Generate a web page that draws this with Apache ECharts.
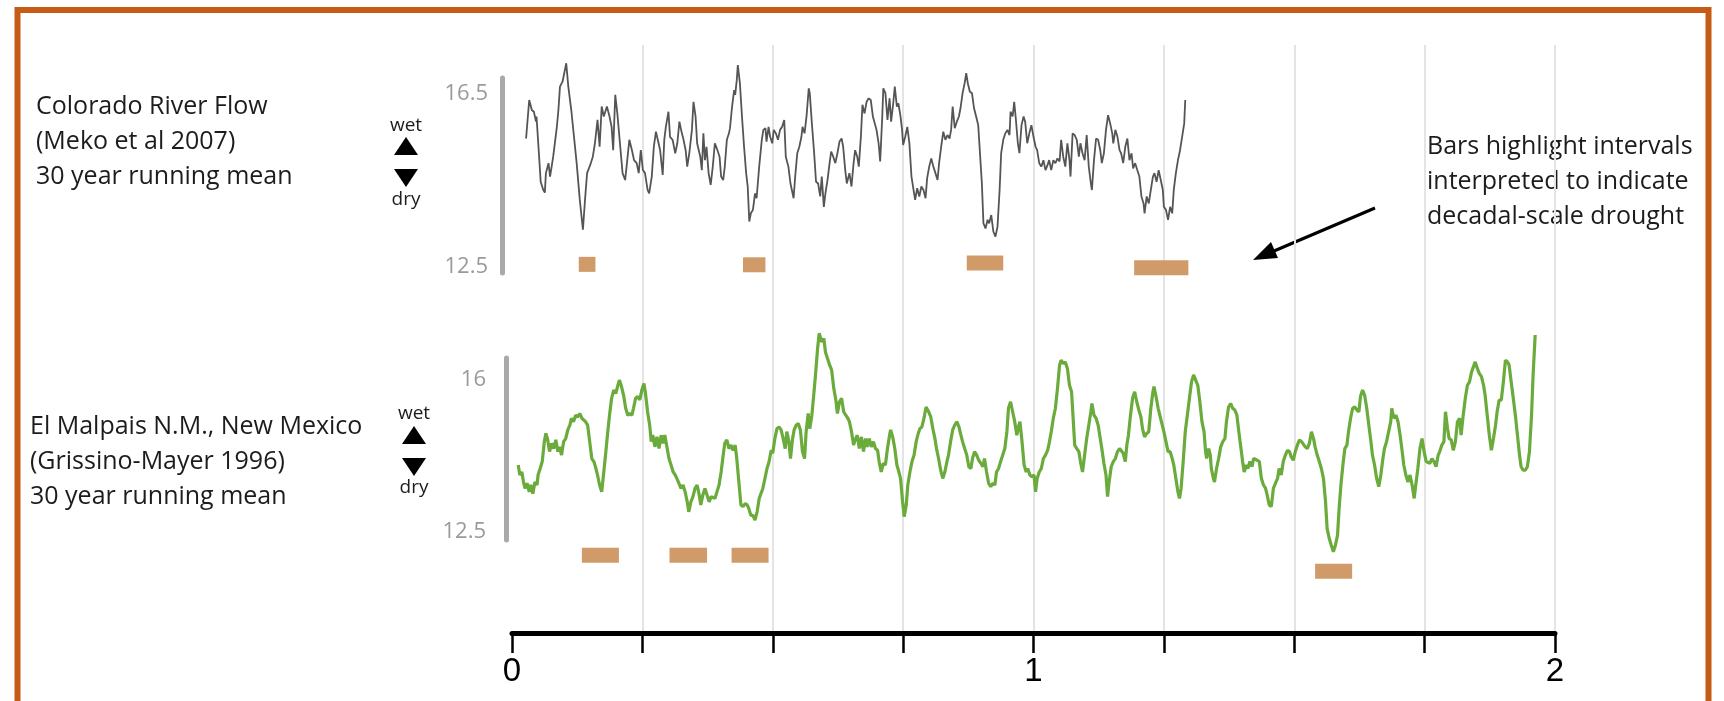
<!DOCTYPE html>
<html><head><meta charset="utf-8">
<script src="https://cdn.jsdelivr.net/npm/echarts@6/dist/echarts.min.js"></script>
<style>html,body{margin:0;padding:0;background:#fff}#c{width:1724px;height:701px}</style>
</head><body><div id="c"></div>
<script>
// x in years (0..2000), axis labelled in thousands
const xTickLabels = ['0', '1', '2'];
const coloradoTicks = [12.5, 16.5];
const malpaisTicks = [12.5, 16];
const coloradoLabel = ['Colorado River Flow', '(Meko et al 2007)', '30 year running mean'];
const malpaisLabel = ['El Malpais N.M., New Mexico', '(Grissino-Mayer 1996)', '30 year running mean'];
const noteLabel = ['Bars highlight intervals', 'interpreted to indicate', 'decadal-scale drought'];

const coloradoFlow = [[27,15.47],[33,16.36],[38,16.13],[42,16.09],[46,15.86],[47,15.98],[52,15.05],[55,14.47],[60,14.28],[63,14.22],[65,14.67],[70,14.90],[73,14.59],[79,15.05],[86,15.74],[89,16.13],[92,16.67],[97,16.79],[100,16.75],[104,17.21],[108,16.67],[114,16.09],[124,14.90],[130,14.05],[136,13.36],[140,14.05],[144,14.67],[150,14.86],[155,15.05],[159,15.36],[164,15.90],[168,15.28],[172,16.21],[176,15.98],[182,16.21],[187,15.98],[191,15.74],[194,15.20],[198,16.48],[202,16.05],[207,15.36],[212,14.67],[217,14.51],[221,14.97],[225,15.44],[230,15.20],[234,14.97],[239,14.90],[243,14.67],[247,15.20],[251,14.74],[255,14.67],[260,14.28],[263,14.20],[268,14.59],[272,15.28],[276,15.63],[279,15.47],[284,15.20],[289,14.63],[292,15.44],[295,15.74],[300,16.09],[303,15.51],[308,15.44],[313,15.13],[317,15.36],[321,15.86],[325,15.63],[329,15.44],[333,15.20],[336,14.82],[340,15.13],[345,15.67],[348,16.32],[352,15.98],[355,15.36],[361,15.05],[364,14.74],[367,15.59],[370,14.97],[373,15.28],[377,14.67],[381,14.40],[385,14.82],[389,15.36],[394,15.20],[398,15.05],[401,14.59],[405,14.51],[408,14.82],[412,15.44],[416,15.59],[418,15.71],[422,16.21],[426,16.59],[428,16.48],[431,16.82],[433,17.17],[437,16.75],[441,15.98],[445,15.28],[449,14.67],[452,14.36],[455,13.55],[458,13.74],[462,13.82],[466,14.20],[469,14.09],[474,14.82],[479,15.44],[482,15.67],[486,15.71],[488,15.40],[492,15.74],[495,15.51],[499,15.36],[502,15.67],[506,15.59],[510,15.44],[514,15.67],[518,15.74],[522,15.90],[525,15.05],[530,14.82],[534,14.43],[540,14.09],[543,14.59],[547,15.13],[551,15.28],[555,15.51],[557,15.74],[561,15.59],[565,16.01],[569,16.63],[571,16.52],[575,15.82],[579,15.20],[583,14.47],[587,14.43],[591,14.13],[594,14.59],[598,13.89],[601,14.20],[605,14.51],[609,14.90],[612,15.17],[616,15.05],[620,14.90],[624,15.13],[628,15.40],[632,15.47],[635,15.28],[639,14.74],[642,14.43],[647,14.67],[651,14.36],[655,14.90],[658,15.20],[662,15.05],[665,14.82],[669,15.51],[672,16.25],[676,16.05],[680,16.32],[684,16.40],[688,16.36],[692,15.98],[695,16.01],[699,15.67],[703,15.36],[706,14.94],[710,15.98],[712,16.63],[716,16.52],[720,15.90],[724,16.40],[727,15.86],[731,16.28],[734,16.67],[738,16.21],[741,16.28],[745,15.98],[748,15.67],[750,15.32],[754,15.51],[758,15.74],[762,15.36],[766,14.59],[770,14.28],[773,14.05],[777,14.32],[781,14.13],[785,14.36],[789,14.28],[793,14.09],[796,14.55],[800,14.82],[804,15.01],[808,14.82],[812,14.67],[816,14.51],[819,14.90],[823,15.28],[827,15.63],[831,15.44],[835,15.55],[839,15.47],[842,15.67],[845,16.21],[849,15.71],[853,15.86],[857,15.98],[860,16.17],[864,16.52],[868,16.75],[871,16.98],[874,16.75],[878,16.55],[882,16.52],[886,16.17],[890,15.98],[894,15.78],[897,15.20],[901,14.43],[904,13.51],[908,13.39],[912,13.59],[915,13.51],[919,13.70],[923,13.32],[927,13.20],[931,13.43],[935,14.28],[938,15.13],[942,15.44],[946,15.59],[950,15.67],[954,15.55],[956,16.09],[960,15.98],[963,16.32],[966,15.94],[970,15.36],[973,15.13],[977,15.78],[981,15.98],[984,15.86],[988,15.36],[992,15.59],[996,15.78],[1000,15.51],[1004,15.28],[1007,15.20],[1011,14.90],[1015,14.82],[1019,14.97],[1023,14.74],[1027,14.86],[1030,14.97],[1034,14.74],[1038,14.97],[1042,14.90],[1046,15.01],[1050,14.94],[1053,15.44],[1057,15.05],[1061,14.82],[1065,15.36],[1069,14.97],[1071,14.59],[1075,15.59],[1079,15.55],[1083,15.44],[1087,15.05],[1090,15.36],[1094,15.13],[1098,14.97],[1102,15.55],[1106,14.82],[1110,14.43],[1112,14.28],[1116,14.97],[1120,15.47],[1124,15.44],[1128,15.20],[1131,14.90],[1135,15.13],[1139,15.67],[1143,16.01],[1147,15.82],[1151,15.59],[1153,15.36],[1157,15.67],[1161,15.51],[1165,15.20],[1168,15.13],[1172,14.90],[1176,15.28],[1180,15.47],[1184,14.97],[1188,15.13],[1191,14.78],[1195,14.90],[1199,14.74],[1203,14.59],[1207,14.13],[1211,13.97],[1213,13.74],[1217,14.13],[1221,13.97],[1225,14.28],[1229,14.59],[1232,14.67],[1236,14.47],[1240,14.74],[1244,14.51],[1248,14.28],[1250,13.89],[1254,13.82],[1258,13.59],[1262,13.89],[1266,13.74],[1269,14.28],[1273,14.67],[1277,14.97],[1281,15.20],[1285,15.51],[1289,15.82],[1291,16.36]];

const elMalpais = [[12,14.04],[15,13.81],[19,13.88],[22,13.65],[25,13.50],[29,13.62],[33,13.42],[36,13.58],[40,13.38],[44,13.65],[48,13.58],[50,13.81],[54,13.96],[58,14.12],[62,14.58],[65,14.77],[68,14.65],[72,14.35],[76,14.54],[80,14.42],[84,14.62],[88,14.35],[91,14.46],[95,14.27],[99,14.58],[103,14.65],[107,14.85],[111,14.96],[114,15.12],[118,15.04],[122,15.19],[126,15.15],[130,15.23],[134,15.12],[137,15.15],[141,15.04],[145,14.96],[149,14.58],[153,14.19],[157,14.12],[160,14.00],[164,13.81],[168,13.58],[172,13.42],[176,13.88],[180,14.35],[183,14.73],[187,15.19],[191,15.58],[195,15.77],[199,15.69],[203,15.88],[206,16.00],[210,15.85],[214,15.65],[218,15.35],[222,15.19],[226,15.23],[230,15.19],[233,15.35],[237,15.58],[241,15.62],[245,15.54],[249,15.77],[253,15.92],[256,15.69],[260,15.27],[264,14.96],[267,14.58],[270,14.73],[274,14.46],[278,14.69],[282,14.42],[286,14.73],[290,14.54],[293,14.73],[297,14.46],[301,14.19],[305,14.04],[309,13.88],[313,13.81],[316,13.73],[320,13.62],[324,13.50],[328,13.58],[332,13.42],[336,13.19],[339,12.96],[343,13.19],[347,13.31],[351,13.50],[355,13.58],[359,13.35],[362,13.12],[366,13.35],[370,13.50],[374,13.35],[378,13.19],[382,13.31],[385,13.35],[389,13.27],[393,13.42],[397,13.58],[401,13.88],[405,14.27],[408,14.54],[412,14.62],[416,14.42],[420,14.50],[424,14.38],[428,14.50],[431,14.19],[435,13.65],[439,13.12],[443,13.08],[447,13.15],[451,13.12],[454,13.04],[458,12.88],[462,12.88],[466,12.77],[470,12.96],[474,13.27],[477,13.31],[481,13.50],[485,13.73],[489,13.96],[493,14.12],[497,14.38],[500,14.31],[504,14.65],[508,14.88],[512,14.92],[516,14.85],[520,14.65],[524,14.42],[527,14.81],[531,14.58],[534,14.19],[538,14.65],[541,14.85],[545,14.96],[549,15.00],[553,14.85],[557,14.35],[561,14.19],[564,14.81],[568,15.23],[571,14.88],[575,15.19],[578,15.58],[582,16.12],[586,16.73],[589,17.08],[591,17.04],[594,16.88],[598,16.96],[601,16.65],[605,16.50],[609,16.35],[613,16.23],[617,15.81],[621,15.54],[624,15.23],[628,15.50],[632,15.58],[636,15.27],[640,15.19],[644,15.12],[647,15.04],[651,14.81],[655,14.50],[658,14.62],[662,14.73],[666,14.42],[670,14.69],[674,14.35],[678,14.65],[681,14.46],[685,14.65],[689,14.46],[693,14.58],[697,14.42],[701,14.38],[704,14.12],[708,13.88],[712,14.08],[716,14.04],[720,14.42],[724,14.73],[726,14.85],[730,14.69],[734,14.42],[738,14.04],[741,13.92],[745,13.73],[749,13.19],[752,12.85],[756,13.12],[759,13.58],[763,13.88],[767,14.12],[771,14.27],[775,14.58],[779,14.77],[782,14.88],[786,14.92],[790,15.12],[794,15.38],[796,15.42],[799,15.27],[803,15.15],[807,14.88],[811,14.65],[814,14.42],[818,14.19],[822,13.92],[826,13.73],[830,13.88],[834,14.12],[837,14.27],[841,14.58],[845,14.85],[849,14.96],[853,15.04],[857,14.92],[860,14.77],[864,14.58],[868,14.42],[872,14.27],[876,14.00],[880,13.96],[883,14.19],[887,14.35],[891,14.27],[895,14.15],[899,14.08],[903,14.00],[906,14.19],[910,13.88],[914,13.62],[918,13.54],[922,13.62],[926,13.58],[929,13.88],[933,13.96],[937,14.12],[941,14.27],[945,14.42],[949,14.81],[952,15.35],[956,15.50],[960,15.27],[964,15.04],[968,14.73],[972,14.96],[974,15.04],[978,14.58],[982,14.04],[986,13.88],[989,13.96],[993,13.81],[997,13.77],[1001,13.81],[1004,13.42],[1007,13.73],[1011,13.88],[1015,13.96],[1019,14.19],[1023,14.27],[1027,14.38],[1030,14.54],[1034,14.81],[1038,15.12],[1042,15.35],[1046,15.81],[1050,16.35],[1053,16.46],[1057,16.38],[1061,16.42],[1065,16.27],[1069,15.88],[1073,15.73],[1076,15.12],[1079,14.50],[1083,14.42],[1087,14.35],[1090,14.12],[1094,13.88],[1098,14.27],[1102,14.65],[1106,14.96],[1110,15.27],[1112,15.46],[1116,15.19],[1120,15.12],[1124,14.96],[1128,14.65],[1131,14.42],[1135,14.08],[1139,13.81],[1142,13.31],[1145,13.65],[1149,14.00],[1153,14.12],[1157,14.19],[1161,14.35],[1165,14.42],[1168,14.46],[1172,14.31],[1176,14.12],[1179,14.50],[1182,14.73],[1186,15.19],[1190,15.58],[1194,15.73],[1198,15.50],[1202,15.31],[1206,15.15],[1209,14.88],[1213,14.69],[1217,14.77],[1221,14.81],[1225,15.35],[1229,15.73],[1231,15.85],[1235,15.62],[1239,15.35],[1243,15.15],[1246,15.19],[1250,14.81],[1254,14.58],[1258,14.35],[1262,14.35],[1266,14.19],[1269,14.04],[1273,13.73],[1277,13.42],[1280,13.27],[1283,13.50],[1287,14.12],[1291,14.81],[1295,15.19],[1299,15.58],[1303,15.96],[1307,16.12],[1310,16.08],[1315,15.88],[1319,15.50],[1323,15.04],[1327,14.81],[1330,14.35],[1332,14.19],[1336,14.42],[1339,14.27],[1341,13.96],[1345,13.73],[1347,13.65],[1351,13.96],[1355,14.19],[1359,14.46],[1363,14.58],[1367,14.65],[1370,15.04],[1374,15.38],[1378,15.46],[1382,15.35],[1386,15.31],[1390,15.19],[1393,14.88],[1397,14.50],[1401,14.12],[1404,13.88],[1408,14.04],[1411,13.96],[1415,14.12],[1419,14.00],[1422,14.19],[1425,14.19],[1429,14.15],[1433,14.12],[1437,13.73],[1441,13.58],[1445,13.50],[1448,13.35],[1452,13.12],[1456,13.08],[1460,13.50],[1464,13.62],[1468,13.73],[1471,13.96],[1475,13.81],[1479,14.12],[1483,14.27],[1487,14.38],[1491,14.35],[1494,14.23],[1498,14.15],[1502,14.35],[1506,14.50],[1510,14.62],[1514,14.58],[1517,14.62],[1521,14.46],[1525,14.42],[1529,14.54],[1533,14.81],[1537,14.65],[1540,14.46],[1544,14.27],[1548,14.12],[1552,13.96],[1556,13.73],[1560,13.19],[1563,12.58],[1567,12.35],[1571,12.19],[1575,12.04],[1579,12.19],[1583,12.42],[1586,13.04],[1590,13.65],[1594,14.12],[1597,14.42],[1601,14.50],[1604,14.81],[1608,15.12],[1612,15.35],[1616,15.38],[1620,15.31],[1624,15.27],[1627,15.62],[1631,15.77],[1635,15.65],[1639,15.35],[1643,14.96],[1647,14.58],[1650,14.27],[1654,14.04],[1658,13.73],[1662,13.54],[1666,13.81],[1670,14.19],[1673,14.42],[1677,14.58],[1681,14.81],[1685,15.04],[1687,15.35],[1691,15.12],[1695,15.19],[1699,15.04],[1703,14.73],[1707,14.35],[1710,14.04],[1714,13.81],[1718,13.65],[1722,13.81],[1726,13.58],[1730,13.27],[1733,13.58],[1737,13.96],[1741,14.42],[1745,14.65],[1749,14.35],[1753,14.12],[1756,14.12],[1760,14.08],[1764,14.19],[1768,14.12],[1772,14.00],[1776,14.27],[1779,14.35],[1783,14.50],[1787,14.58],[1790,15.27],[1794,14.88],[1797,14.65],[1801,14.62],[1805,14.38],[1809,14.58],[1813,15.04],[1817,15.12],[1820,14.73],[1824,15.19],[1828,15.58],[1832,15.88],[1836,15.96],[1840,16.19],[1843,16.23],[1847,16.42],[1851,16.27],[1855,16.15],[1859,16.08],[1863,15.88],[1866,15.65],[1870,15.19],[1874,14.73],[1878,14.38],[1882,14.65],[1886,14.96],[1889,15.27],[1893,15.54],[1897,15.54],[1901,15.96],[1905,16.46],[1909,16.42],[1912,16.35],[1916,15.96],[1920,15.58],[1924,15.19],[1928,14.73],[1932,14.27],[1935,14.00],[1939,13.92],[1943,13.92],[1947,14.00],[1951,14.35],[1955,15.19],[1958,16.12],[1962,17.04]];

// drought intervals: [start, end, level]
const coloradoDroughts = [[128,160,12.56],[443,486,12.55],[872,942,12.59],[1193,1297,12.48]];
const malpaisDroughts = [[134,205,11.96],[302,374,11.96],[421,492,11.96],[1540,1611,11.59]];

const chart = echarts.init(document.getElementById('c'));
const FONT = 'Open Sans';
const INK = '#1e1b1c';

function droughtBar(params, api) {
  const a = api.coord([api.value(0), api.value(2)]);
  const b = api.coord([api.value(1), api.value(2)]);
  const h = 15;
  return { type: 'rect', shape: { x: a[0], y: a[1] - h / 2, width: b[0] - a[0], height: h },
    style: { fill: '#d09b68' } };
}

function textBlock(lines, x, y0, step, size) {
  return lines.map((t, i) => ({ type: 'text', silent: true,
    style: { text: t, x: x, y: y0 + i * step, fontFamily: FONT, fontSize: size, fill: INK,
      textAlign: 'left', textVerticalAlign: 'middle' } }));
}
function wetDry(cx, yWet, yUp, yDown, yDry) {
  const w = 12, h = 9;
  return [
    { type: 'text', silent: true, style: { text: 'wet', x: cx, y: yWet, fontFamily: FONT, fontSize: 19, fill: INK, textAlign: 'center', textVerticalAlign: 'middle' } },
    { type: 'polygon', silent: true, shape: { points: [[cx, yUp - h], [cx + w, yUp + h], [cx - w, yUp + h]] }, style: { fill: '#000' } },
    { type: 'polygon', silent: true, shape: { points: [[cx - w, yDown - h], [cx + w, yDown - h], [cx, yDown + h]] }, style: { fill: '#000' } },
    { type: 'text', silent: true, style: { text: 'dry', x: cx, y: yDry, fontFamily: FONT, fontSize: 19, fill: INK, textAlign: 'center', textVerticalAlign: 'middle' } }
  ];
}

const L = 512, W = 1043;
const panelX = (gi) => ({ type: 'value', gridIndex: gi, min: 0, max: 2000, show: false });

const option = {
  animation: false,
  backgroundColor: '#ffffff',
  grid: [
    { left: L, width: W, top: 45, height: 588 },
    { left: L, width: W, top: 78, height: 195 },
    { left: L, width: W, top: 358, height: 182 }
  ],
  xAxis: [
    { type: 'value', gridIndex: 0, min: 0, max: 2000, interval: 250, position: 'bottom',
      axisLine: { show: true, onZero: false, lineStyle: { color: '#000', width: 5 } },
      axisTick: { show: true, length: 20, lineStyle: { color: '#000', width: 2.5 } },
      axisLabel: { show: true, margin: 22, fontFamily: 'Liberation Sans', fontSize: 33, color: '#000',
        formatter: v => (v % 1000 === 0 ? xTickLabels[v / 1000] : '') },
      splitLine: { show: true, showMinLine: false, lineStyle: { color: '#e4e4e4', width: 2 } } },
    panelX(1), panelX(2)
  ],
  yAxis: [
    { type: 'value', gridIndex: 0, min: 0, max: 1, show: false },
    { type: 'value', gridIndex: 1, min: 12.36, max: 16.87, offset: 10,
      axisLine: { show: true, onZero: false, lineStyle: { color: '#a9a9a9', width: 5 } },
      axisTick: { show: false }, splitLine: { show: false },
      axisLabel: { customValues: coloradoTicks, margin: 14, color: '#9a9a9a', fontFamily: FONT, fontSize: 22 } },
    { type: 'value', gridIndex: 2, min: 12.31, max: 16.51, offset: 6,
      axisLine: { show: true, onZero: false, lineStyle: { color: '#a9a9a9', width: 5 } },
      axisTick: { show: false }, splitLine: { show: false },
      axisLabel: { customValues: malpaisTicks, margin: 20, color: '#9a9a9a', fontFamily: FONT, fontSize: 22 } }
  ],
  series: [
    { type: 'line', name: 'Colorado River Flow', xAxisIndex: 1, yAxisIndex: 1, data: coloradoFlow,
      showSymbol: false, clip: false, lineStyle: { color: '#555555', width: 1.8 }, z: 5 },
    { type: 'line', name: 'El Malpais', xAxisIndex: 2, yAxisIndex: 2, data: elMalpais,
      showSymbol: false, clip: false, lineStyle: { color: '#6aab3c', width: 3.2 }, z: 5 },
    { type: 'custom', xAxisIndex: 1, yAxisIndex: 1, data: coloradoDroughts, renderItem: droughtBar,
      encode: { x: [0, 1], y: 2 }, clip: false, z: 4 },
    { type: 'custom', xAxisIndex: 2, yAxisIndex: 2, data: malpaisDroughts, renderItem: droughtBar,
      encode: { x: [0, 1], y: 2 }, clip: false, z: 4 }
  ],
  graphic: [
    { type: 'rect', silent: true, shape: { x: 17.5, y: 10, width: 1691, height: 800 },
      style: { fill: null, stroke: '#c55b14', lineWidth: 6 } },
    ...textBlock(coloradoLabel, 36, 107, 35, 25),
    ...textBlock(malpaisLabel, 30, 427, 35, 25),
    ...textBlock(noteLabel, 1427, 147, 35, 25),
    ...wetDry(406, 126, 146, 178, 200),
    ...wetDry(414, 414, 435, 467, 488),
    { type: 'line', silent: true, shape: { x1: 1375, y1: 208, x2: 1274, y2: 251 },
      style: { stroke: '#000', lineWidth: 3 } },
    { type: 'polygon', silent: true, shape: { points: [[1253, 260], [1278, 258], [1271, 242]] },
      style: { fill: '#000' } }
  ]
};
chart.setOption(option);
</script>
</body></html>
